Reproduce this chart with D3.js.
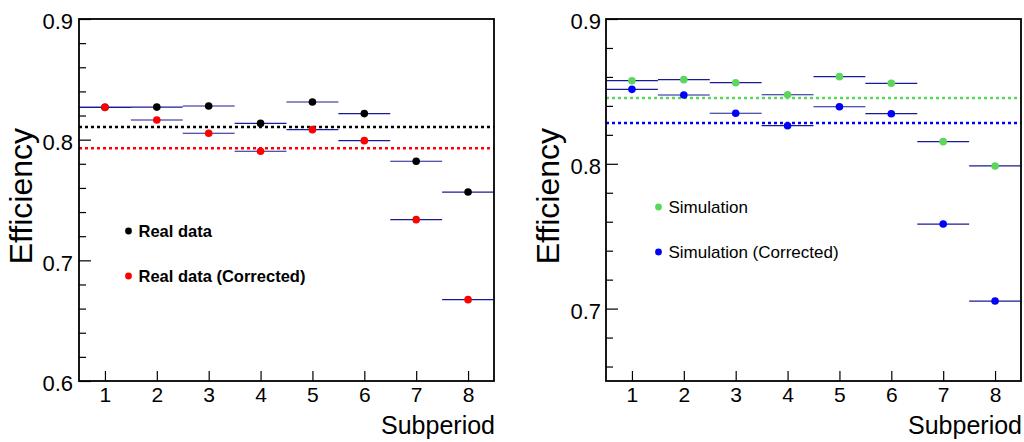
<!DOCTYPE html>
<html>
<head>
<meta charset="utf-8">
<script src="https://cdn.jsdelivr.net/npm/d3@7"></script>
<style>
  html, body { margin: 0; padding: 0; background: #fff; }
  svg { display: block; font-family: "Liberation Sans", Arial, Helvetica, sans-serif; }
</style>
</head>
<body>
<svg id="chart" width="1024" height="442"></svg>
<script>
// ---- data ----
const subperiods = [1, 2, 3, 4, 5, 6, 7, 8];
const xTickLabels = ["1", "2", "3", "4", "5", "6", "7", "8"];

const realData          = [0.8268, 0.8270, 0.8279, 0.8135, 0.8312, 0.8216, 0.7821, 0.7566];
const realDataCorrected = [0.8268, 0.8163, 0.8053, 0.7904, 0.8083, 0.7992, 0.7337, 0.6674];
const realDataMean = 0.8105;
const realDataCorrectedMean = 0.7929;

const simulation          = [0.8574, 0.8581, 0.8560, 0.8477, 0.8602, 0.8556, 0.8153, 0.7985];
const simulationCorrected = [0.8514, 0.8475, 0.8349, 0.8263, 0.8394, 0.8346, 0.7584, 0.7052];
const simulationMean = 0.8454;
const simulationCorrectedMean = 0.8282;

const leftYTicks  = [0.6, 0.7, 0.8, 0.9];
const rightYTicks = [0.7, 0.8, 0.9];

const svg = d3.select("#chart");
const barColor = "#1a1a96";

function drawPanel(cfg) {
  const g = svg.append("g");
  const x = d3.scaleLinear().domain([0.5, 8.5]).range([cfg.left, cfg.right]);
  const y = d3.scaleLinear().domain(cfg.yDomain).range([cfg.bottom, cfg.top]);

  // minor y ticks
  const minors = d3.range(Math.round(cfg.yDomain[0] * 50), Math.round(cfg.yDomain[1] * 50) + 1)
    .map(v => v / 50)
    .filter(v => !cfg.yTicks.some(t => Math.abs(t - v) < 1e-6) && v > cfg.yDomain[0] + 1e-6);
  g.append("g")
    .attr("transform", `translate(${cfg.left},0)`)
    .call(d3.axisLeft(y).tickValues(minors).tickSize(-7).tickFormat(""))
    .call(a => a.select(".domain").remove())
    .call(a => a.selectAll("line").attr("stroke", "#000").attr("stroke-width", 1.2));

  // major y ticks
  g.append("g")
    .attr("transform", `translate(${cfg.left},0)`)
    .call(d3.axisLeft(y).tickValues(cfg.yTicks).tickSize(-12).tickPadding(cfg.yPad).tickFormat(d3.format(".1f")))
    .call(a => a.select(".domain").remove())
    .call(a => a.selectAll("line").attr("stroke", "#000").attr("stroke-width", 1.2))
    .call(a => a.selectAll("text").attr("font-size", cfg.tickFont).attr("fill", "#000")
      .attr("font-family", "Liberation Sans, Arial, sans-serif").attr("dy", "0.45em"));

  // x ticks
  g.append("g")
    .attr("transform", `translate(0,${cfg.bottom})`)
    .call(d3.axisBottom(x).tickValues(subperiods).tickSize(-10).tickPadding(6)
      .tickFormat((d, i) => xTickLabels[i]))
    .call(a => a.select(".domain").remove())
    .call(a => a.selectAll("line").attr("stroke", "#000").attr("stroke-width", 1.2))
    .call(a => a.selectAll("text").attr("font-size", 21).attr("fill", "#000")
      .attr("font-family", "Liberation Sans, Arial, sans-serif").attr("dy", "0.72em"));

  // mean lines (dotted)
  cfg.means.forEach(m => {
    g.append("line")
      .attr("x1", x(0.5)).attr("x2", x(8.5))
      .attr("y1", y(m.value)).attr("y2", y(m.value))
      .attr("stroke", m.color).attr("stroke-width", 2.5)
      .attr("stroke-dasharray", "3,3");
  });

  // horizontal error bars + markers
  cfg.series.forEach(s => {
    g.append("g").selectAll("line")
      .data(s.values)
      .join("line")
      .attr("x1", (d, i) => x(subperiods[i] - 0.5))
      .attr("x2", (d, i) => x(subperiods[i] + 0.5))
      .attr("y1", d => y(d)).attr("y2", d => y(d))
      .attr("stroke", barColor).attr("stroke-width", 1.2);
  });
  cfg.series.forEach(s => {
    g.append("g").selectAll("circle")
      .data(s.values)
      .join("circle")
      .attr("cx", (d, i) => x(subperiods[i]))
      .attr("cy", d => y(d))
      .attr("r", 3.8)
      .attr("fill", s.color);
  });

  // frame
  g.append("rect")
    .attr("x", cfg.left).attr("y", cfg.top)
    .attr("width", cfg.right - cfg.left).attr("height", cfg.bottom - cfg.top)
    .attr("fill", "none").attr("stroke", "#000").attr("stroke-width", 1.8);

  // axis titles
  g.append("text")
    .attr("transform", `translate(${cfg.left - 47},${cfg.top + 109}) rotate(-90)`)
    .attr("text-anchor", "end")
    .attr("font-size", 32)
    .attr("fill", "#000")
    .text("Efficiency");
  g.append("text")
    .attr("x", cfg.right + 1).attr("y", cfg.bottom + 53)
    .attr("text-anchor", "end")
    .attr("font-size", 25)
    .attr("fill", "#000")
    .text("Subperiod");

  // legend
  cfg.series.forEach((s, i) => {
    const ly = cfg.legendY + i * cfg.legendGap;
    g.append("circle").attr("cx", cfg.legendX).attr("cy", ly).attr("r", 3.4).attr("fill", s.color);
    g.append("text")
      .attr("x", cfg.legendX + 10).attr("y", ly).attr("dy", "0.36em")
      .attr("font-size", cfg.legendFont)
      .attr("font-weight", cfg.legendBold ? "bold" : "normal")
      .attr("fill", "#000")
      .text(s.name);
  });
}

drawPanel({
  left: 79, right: 494, top: 19, bottom: 381,
  yDomain: [0.6, 0.9], yTicks: leftYTicks, tickFont: 22, yPad: 6,
  series: [
    { name: "Real data", values: realData, color: "#000000" },
    { name: "Real data (Corrected)", values: realDataCorrected, color: "#ff0000" }
  ],
  means: [
    { value: realDataMean, color: "#000000" },
    { value: realDataCorrectedMean, color: "#ff0000" }
  ],
  legendX: 128.5, legendY: 231, legendGap: 45, legendFont: 16.5, legendBold: true
});

drawPanel({
  left: 606, right: 1021, top: 19, bottom: 381,
  yDomain: [0.65, 0.9], yTicks: rightYTicks, tickFont: 22, yPad: 5,
  series: [
    { name: "Simulation", values: simulation, color: "#5dd65d" },
    { name: "Simulation (Corrected)", values: simulationCorrected, color: "#0000ff" }
  ],
  means: [
    { value: simulationMean, color: "#5dd65d" },
    { value: simulationCorrectedMean, color: "#0000ff" }
  ],
  legendX: 658.5, legendY: 207, legendGap: 45, legendFont: 17, legendBold: false
});
</script>
</body>
</html>
